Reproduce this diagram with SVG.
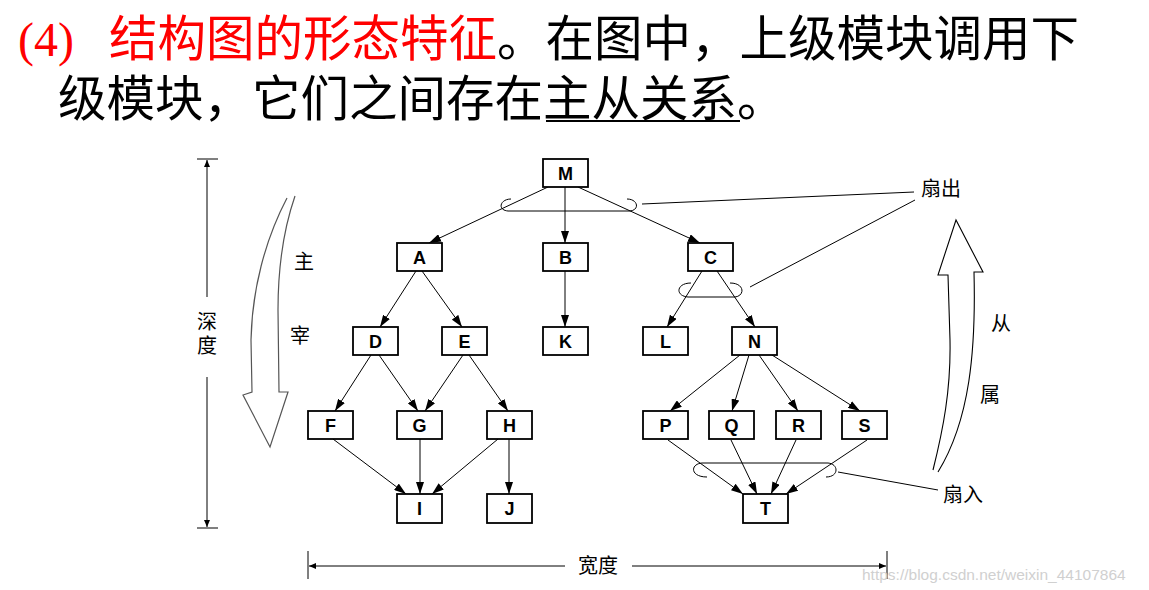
<svg xmlns="http://www.w3.org/2000/svg" width="1149" height="590" viewBox="0 0 1149 590">
<style>
.title{font-family:"Noto Sans CJK SC","Noto Sans CJK JP",sans-serif;font-size:48.5px}
.red{fill:#ff0000}
.blk{fill:#000}
.box{fill:#fff;stroke:#000;stroke-width:1.8}
.lbl{font-family:"Liberation Sans",Arial,sans-serif;font-weight:bold;font-size:18px;text-anchor:middle;fill:#000}
.edge{stroke:#000;stroke-width:1;fill:none;marker-end:url(#ah)}
.thin{stroke:#000;stroke-width:1;fill:none}
.cjk{font-family:"Noto Sans CJK SC","Noto Sans CJK JP",sans-serif;font-size:20px;fill:#000;text-anchor:middle}
.dim{stroke:#000;stroke-width:1;fill:none}
</style>
<defs>
<marker id="ah" markerUnits="userSpaceOnUse" markerWidth="12" markerHeight="8" refX="12" refY="4" orient="auto">
<path d="M0,0 L12,4 L0,8 Z" fill="#000"/>
</marker>
<marker id="sa" markerUnits="userSpaceOnUse" markerWidth="7" markerHeight="6" refX="7" refY="3" orient="auto">
<path d="M0,0 L7,3 L0,6 Z" fill="#000"/>
</marker>
</defs>
<rect width="1149" height="590" fill="#fff"/>

<g id="title">
<text class="red" x="18" y="56" font-family="Liberation Serif,serif" font-size="48">(4)</text>
<text class="title red" x="109" y="56">结构图的形态特征</text>
<text class="title blk" x="497" y="56">。在图中，上级模块调用下</text>
<text class="title blk" x="58" y="116">级模块，它们之间存在</text>
<text class="title blk" x="543" y="116">主从关系</text>
<text class="title blk" x="737" y="116">。</text>
<line x1="546" y1="121" x2="740" y2="121" stroke="#000" stroke-width="2"/>
</g>

<g id="connectors">
<line class="edge" x1="548" y1="187" x2="429" y2="243"/>
<line class="edge" x1="565" y1="187" x2="565" y2="243"/>
<line class="edge" x1="578" y1="187" x2="700" y2="243"/>
<line class="edge" x1="416" y1="271" x2="380" y2="327"/>
<line class="edge" x1="422" y1="271" x2="462" y2="327"/>
<line class="edge" x1="565" y1="271" x2="565" y2="327"/>
<line class="edge" x1="702" y1="271" x2="667" y2="327"/>
<line class="edge" x1="717" y1="271" x2="755" y2="327"/>
<line class="edge" x1="371" y1="355" x2="335" y2="411"/>
<line class="edge" x1="379" y1="355" x2="418" y2="411"/>
<line class="edge" x1="463" y1="355" x2="425" y2="411"/>
<line class="edge" x1="469" y1="355" x2="508" y2="411"/>
<line class="edge" x1="333" y1="439" x2="406" y2="494"/>
<line class="edge" x1="420" y1="439" x2="420" y2="494"/>
<line class="edge" x1="498" y1="439" x2="432" y2="494"/>
<line class="edge" x1="509" y1="439" x2="509" y2="494"/>
<line class="edge" x1="740" y1="355" x2="670" y2="411"/>
<line class="edge" x1="749" y1="355" x2="732" y2="411"/>
<line class="edge" x1="759" y1="355" x2="798" y2="411"/>
<line class="edge" x1="772" y1="355" x2="860" y2="411"/>
<line class="edge" x1="668" y1="440" x2="743" y2="494"/>
<line class="edge" x1="731" y1="440" x2="757" y2="494"/>
<line class="edge" x1="796" y1="440" x2="771" y2="494"/>
<line class="edge" x1="867" y1="440" x2="786" y2="494"/>
<path class="thin" d="M511,199 C500,199 497,210 508,211 L630,211 C640,210 638,199 627,199"/>
<path class="thin" d="M691,283 C676,283 675,296 688,297 L735,297 C745,296 745,283 730,283"/>
<path class="thin" d="M707,477 C690,477 690,464 702,463 L828,463 C839,464 839,477 826,477"/>
<line class="thin" x1="642" y1="204" x2="914" y2="192"/>
<line class="thin" x1="750" y1="287" x2="915" y2="200"/>
<line class="thin" x1="838" y1="472" x2="938" y2="490"/>
</g>

<g id="nodes">
<g id="node-M"><rect class="box" x="543" y="159" width="45" height="28"/><text class="lbl" x="565.5" y="179.5">M</text></g>
<g id="node-A"><rect class="box" x="397" y="243" width="45" height="28"/><text class="lbl" x="419.5" y="263.5">A</text></g>
<g id="node-B"><rect class="box" x="543" y="243" width="45" height="28"/><text class="lbl" x="565.5" y="263.5">B</text></g>
<g id="node-C"><rect class="box" x="688" y="243" width="45" height="28"/><text class="lbl" x="710.5" y="263.5">C</text></g>
<g id="node-D"><rect class="box" x="353" y="327" width="45" height="28"/><text class="lbl" x="375.5" y="347.5">D</text></g>
<g id="node-E"><rect class="box" x="442" y="327" width="45" height="28"/><text class="lbl" x="464.5" y="347.5">E</text></g>
<g id="node-K"><rect class="box" x="543" y="327" width="45" height="28"/><text class="lbl" x="565.5" y="347.5">K</text></g>
<g id="node-L"><rect class="box" x="643" y="327" width="45" height="28"/><text class="lbl" x="665.5" y="347.5">L</text></g>
<g id="node-N"><rect class="box" x="732" y="327" width="45" height="28"/><text class="lbl" x="754.5" y="347.5">N</text></g>
<g id="node-F"><rect class="box" x="308" y="411" width="45" height="28"/><text class="lbl" x="330.5" y="431.5">F</text></g>
<g id="node-G"><rect class="box" x="397" y="411" width="45" height="28"/><text class="lbl" x="419.5" y="431.5">G</text></g>
<g id="node-H"><rect class="box" x="487" y="411" width="45" height="28"/><text class="lbl" x="509.5" y="431.5">H</text></g>
<g id="node-P"><rect class="box" x="643" y="411" width="45" height="28"/><text class="lbl" x="665.5" y="431.5">P</text></g>
<g id="node-Q"><rect class="box" x="709" y="411" width="45" height="28"/><text class="lbl" x="731.5" y="431.5">Q</text></g>
<g id="node-R"><rect class="box" x="776" y="411" width="45" height="28"/><text class="lbl" x="798.5" y="431.5">R</text></g>
<g id="node-S"><rect class="box" x="842" y="411" width="45" height="28"/><text class="lbl" x="864.5" y="431.5">S</text></g>
<g id="node-I"><rect class="box" x="397" y="494" width="45" height="29"/><text class="lbl" x="419.5" y="515">I</text></g>
<g id="node-J"><rect class="box" x="487" y="494" width="45" height="29"/><text class="lbl" x="509.5" y="515">J</text></g>
<g id="node-T"><rect class="box" x="743" y="494" width="45" height="29"/><text class="lbl" x="765.5" y="515">T</text></g>
</g>

<g id="depth">
<line class="dim" x1="197" y1="159" x2="218" y2="159"/>
<line class="dim" x1="207" y1="297" x2="207" y2="160" marker-end="url(#sa)"/>
<text class="cjk"><tspan x="207" y="329">深</tspan><tspan x="207" y="353">度</tspan></text>
<line class="dim" x1="207" y1="377" x2="207" y2="527" marker-end="url(#sa)"/>
<line class="dim" x1="197" y1="528" x2="218" y2="528"/>
</g>

<g id="width">
<line class="dim" x1="308" y1="551" x2="308" y2="579"/>
<line class="dim" x1="565" y1="566" x2="309" y2="566" marker-end="url(#sa)"/>
<text class="cjk" x="598" y="573">宽度</text>
<line class="dim" x1="632" y1="566" x2="886" y2="566" marker-end="url(#sa)"/>
<line class="dim" x1="887" y1="551" x2="887" y2="579"/>
</g>

<g id="master-arrow">
<path d="M287,198 C265,240 252,290 251,340 L252,392 L243,395 L270,447 L288,392 L279,392 L278,310 C278,260 285,225 295,196" fill="none" stroke="#555" stroke-width="1.2"/>
<text class="cjk" x="304" y="269">主</text>
<text class="cjk" x="300" y="343">宰</text>
</g>

<g id="slave-arrow">
<path d="M933,470 C943,430 951,390 950,340 L948,275 L938,275 L956,220 L983,272 L974,272 C976,350 970,420 938,472" fill="none" stroke="#000" stroke-width="1.1"/>
<text class="cjk" x="1001" y="331">从</text>
<text class="cjk" x="990" y="402">属</text>
</g>

<g id="labels">
<text class="cjk" x="941" y="196">扇出</text>
<text class="cjk" x="963" y="502">扇入</text>
</g>

<text x="862" y="580" font-family="Liberation Sans,Arial,sans-serif" font-size="15.5" fill="#d0d0d0">https://blog.csdn.net/weixin_44107864</text>
</svg>
